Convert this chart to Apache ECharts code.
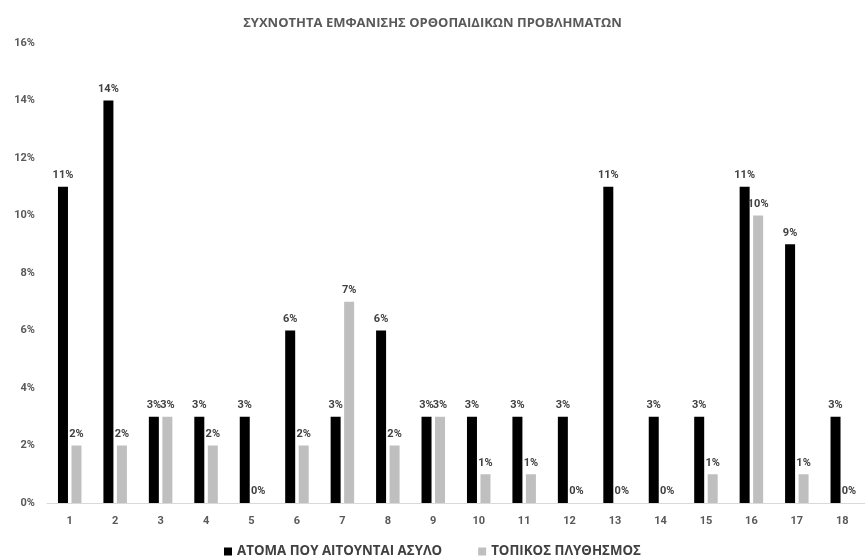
<!DOCTYPE html>
<html>
<head>
<meta charset="utf-8">
<script src="https://cdn.jsdelivr.net/npm/echarts@6/dist/echarts.min.js"></script>
<style>
  html, body { margin: 0; padding: 0; background: #fff; }
  #chart { width: 865px; height: 557px; }
</style>
</head>
<body>
<div id="chart"></div>
<script>
// Frequency of orthopaedic problems, by problem number (percent of each group)
const categories = ['1','2','3','4','5','6','7','8','9','10','11','12','13','14','15','16','17','18'];
const asylumSeekers = [11, 14, 3, 3, 3, 6, 3, 6, 3, 3, 3, 3, 11, 3, 3, 11, 9, 3];
const localPopulation = [2, 2, 3, 2, 0, 2, 7, 2, 3, 1, 1, 0, 0, 0, 1, 10, 1, 0];
const yTicks = { min: 0, max: 16, interval: 2 };

const NUM_FONT = 'Roboto, "Liberation Sans", sans-serif';
const TEXT_FONT = '"Open Sans", Roboto, sans-serif';
const labelStyle = {
  show: true,
  position: 'top',
  distance: 6,
  formatter: '{c}%',
  color: '#404040',
  fontFamily: NUM_FONT,
  fontWeight: 'bold',
  fontSize: 11
};

const chart = echarts.init(document.getElementById('chart'), null, { renderer: 'canvas' });
chart.setOption({
  animation: false,
  backgroundColor: '#ffffff',
  title: {
    text: 'ΣΥΧΝΟΤΗΤΑ ΕΜΦΑΝΙΣΗΣ ΟΡΘΟΠΑΙΔΙΚΩΝ ΠΡΟΒΛΗΜΑΤΩΝ',
    left: 'center',
    top: 12,
    textStyle: { color: '#595959', fontFamily: TEXT_FONT, fontWeight: 'bold', fontSize: 13 }
  },
  legend: {
    top: 540,
    left: 'center',
    itemWidth: 8,
    itemHeight: 8,
    itemGap: 36,
    icon: 'rect',
    textStyle: { color: '#404040', fontFamily: TEXT_FONT, fontWeight: 'bold', fontSize: 13.3 },
    data: ['ΑΤΟΜΑ ΠΟΥ ΑΙΤΟΥΝΤΑΙ ΑΣΥΛΟ', 'ΤΟΠΙΚΟΣ ΠΛΥΘΗΣΜΟΣ']
  },
  grid: { left: 47, top: 43, width: 829, height: 460, containLabel: false },
  xAxis: {
    type: 'category',
    data: categories,
    axisLine: { show: true, lineStyle: { color: '#d9d9d9', width: 1 } },
    axisTick: { show: false },
    axisLabel: { color: '#595959', fontFamily: NUM_FONT, fontWeight: 'bold', fontSize: 11, margin: 13 }
  },
  yAxis: {
    type: 'value',
    min: yTicks.min,
    max: yTicks.max,
    interval: yTicks.interval,
    axisLine: { show: false },
    axisTick: { show: false },
    splitLine: { show: false },
    axisLabel: { formatter: '{value}%', color: '#595959', fontFamily: NUM_FONT, fontWeight: 'bold', fontSize: 11, margin: 12 }
  },
  series: [
    {
      name: 'ΑΤΟΜΑ ΠΟΥ ΑΙΤΟΥΝΤΑΙ ΑΣΥΛΟ',
      type: 'bar',
      data: asylumSeekers,
      barWidth: 10,
      barGap: '35%',
      itemStyle: { color: '#000000' },
      label: labelStyle
    },
    {
      name: 'ΤΟΠΙΚΟΣ ΠΛΥΘΗΣΜΟΣ',
      type: 'bar',
      data: localPopulation,
      barWidth: 10,
      barGap: '35%',
      itemStyle: { color: '#bfbfbf' },
      label: labelStyle
    }
  ]
});
</script>
</body>
</html>
